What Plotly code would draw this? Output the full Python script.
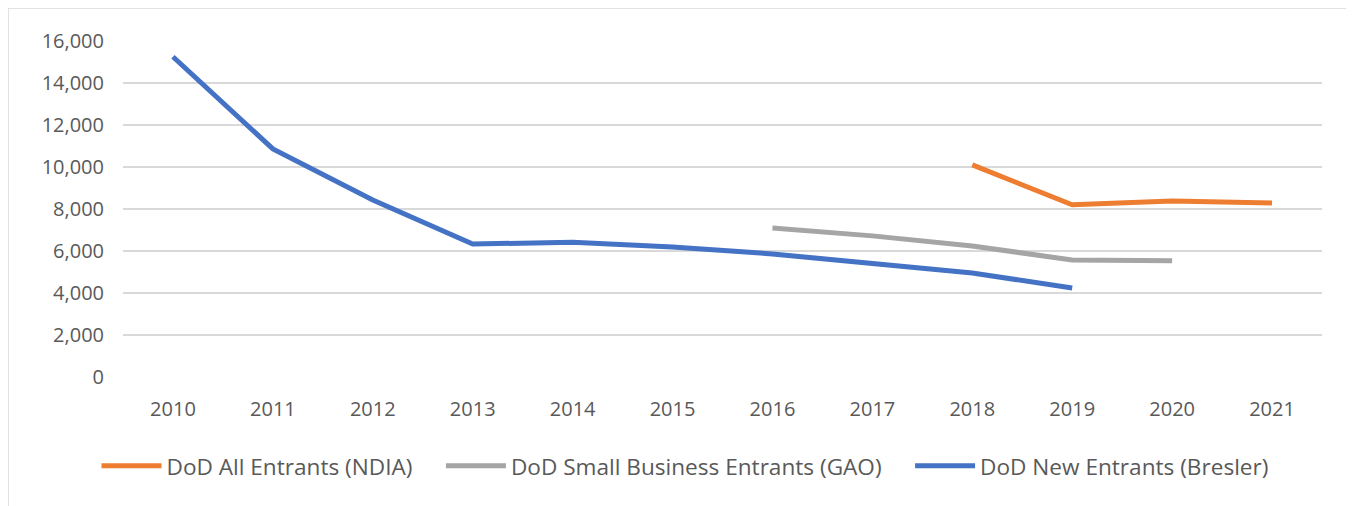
import plotly.graph_objects as go

years = ["2010", "2011", "2012", "2013", "2014", "2015", "2016", "2017", "2018", "2019", "2020", "2021"]
ndia = [None, None, None, None, None, None, None, None, 10100, 8200, 8380, 8290]
gao = [None, None, None, None, None, None, 7100, 6720, 6240, 5570, 5530, None]
bresler = [15250, 10860, 8430, 6330, 6420, 6190, 5860, 5430, 4950, 4240, None, None]
y_ticks = [0, 2000, 4000, 6000, 8000, 10000, 12000, 14000, 16000]
names = ["DoD All Entrants (NDIA)", "DoD Small Business Entrants (GAO)", "DoD New Entrants (Bresler)"]

W, H = 1354, 506
L, R, T, B = 115, 40, 33, 137
PW, PH = W - L - R, H - T - B
pad = "\u00a0" * 4

fig = go.Figure()
fig.add_trace(go.Scatter(x=years, y=ndia, mode="lines", name=names[0] + pad,
                         line=dict(color="#ED7D31", width=5)))
fig.add_trace(go.Scatter(x=years, y=gao, mode="lines", name=names[1] + pad,
                         line=dict(color="#A5A5A5", width=5)))
fig.add_trace(go.Scatter(x=years, y=bresler, mode="lines", name=names[2],
                         line=dict(color="#4472C4", width=5)))

font = dict(family="Open Sans", size=20, color="#595959")
fig.update_layout(
    width=W, height=H,
    margin=dict(l=L, r=R, t=T, b=B),
    paper_bgcolor="white", plot_bgcolor="white",
    font=font,
    showlegend=True,
    legend=dict(orientation="h", x=(W / 2 - L) / PW, xanchor="center", y=-0.265, yanchor="middle",
                font=dict(family="Open Sans", size=22.6, color="#595959"),
                itemwidth=60, tracegroupgap=0),
    xaxis=dict(type="category", range=[-0.5, 11.5], showgrid=False, showline=False,
               ticks="", tickfont=font, zeroline=False, ticklabelstandoff=18),
    yaxis=dict(range=[0, 16000], tickvals=y_ticks, tickformat=",d", showgrid=True,
               gridcolor="#D9D9D9", gridwidth=1.5, zeroline=False, showline=False,
               ticks="", tickfont=font, ticklabelstandoff=18),
    shapes=[
        dict(type="line", xref="paper", yref="paper", x0=-L / PW, x1=(W - L) / PW,
             y0=1 + T / PH, y1=1 + T / PH, line=dict(color="#D9D9D9", width=1.5)),
        dict(type="line", xref="paper", yref="paper", x0=-L / PW, x1=-L / PW,
             y0=1 + T / PH, y1=-B / PH, line=dict(color="#D9D9D9", width=1.5)),
    ],
)
fig.write_html("out.html")
